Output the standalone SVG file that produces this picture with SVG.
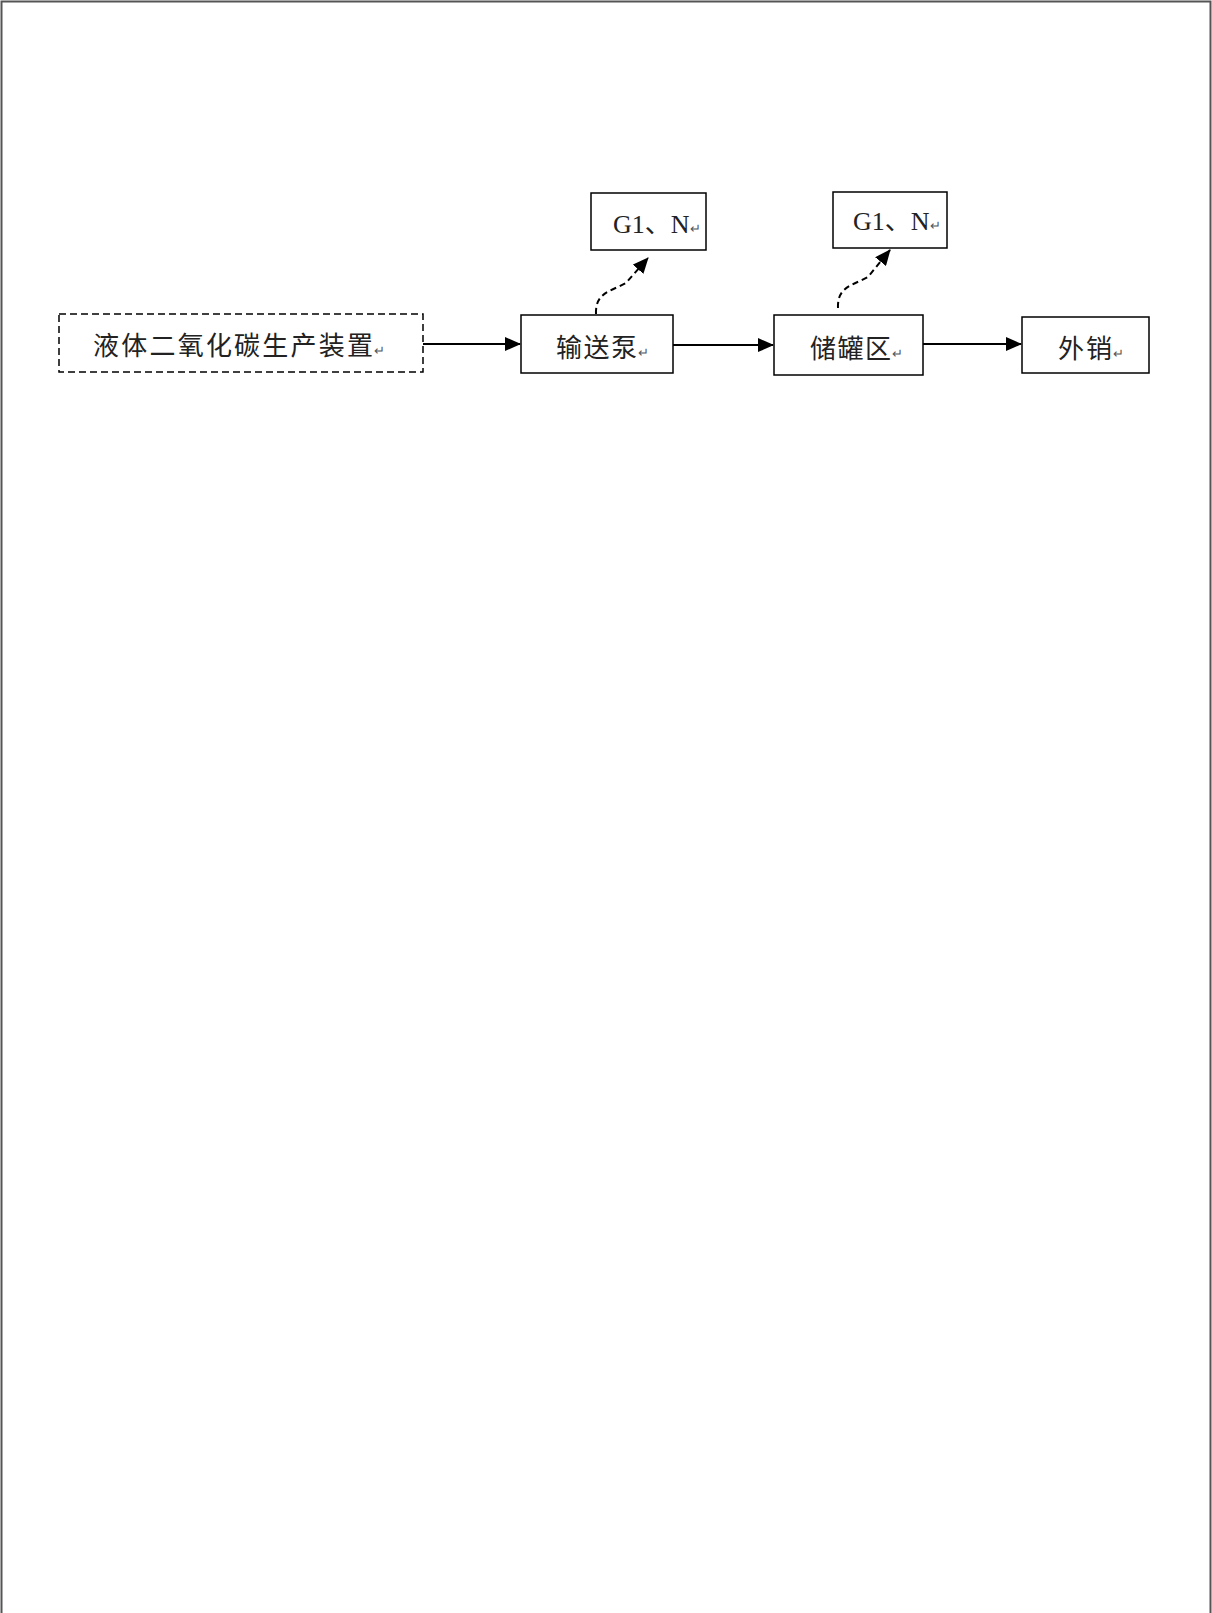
<svg xmlns="http://www.w3.org/2000/svg" width="1212" height="1613" viewBox="0 0 1212 1613">
<style>
.box{fill:#fff;stroke:#000;stroke-width:1.5}
.dbox{fill:#fff;stroke:#000;stroke-width:1.5;stroke-dasharray:7 4}
.t{font-family:"Liberation Serif","Noto Sans CJK SC",serif;font-size:26px;fill:#222}
.pm{font-size:13px;fill:#555}
.ln{fill:none;stroke:#000;stroke-width:2}
.dl{fill:none;stroke:#000;stroke-width:2;stroke-dasharray:6 4}
</style>
<defs>
<marker id="ah" markerWidth="16" markerHeight="14" refX="15" refY="7" orient="auto" markerUnits="userSpaceOnUse">
<path d="M0,0 L16,7 L0,14 Z" fill="#000"/>
</marker>
</defs>
<rect width="1212" height="1613" fill="#fff"/>
<path d="M1.5,1613 L1.5,1.5 L1210.5,1.5 L1210.5,1613" fill="none" stroke="#555" stroke-width="2"/>
<g id="connectors">
<line class="ln" x1="423" y1="344" x2="520" y2="344" marker-end="url(#ah)"/>
<line class="ln" x1="673" y1="345" x2="773" y2="345" marker-end="url(#ah)"/>
<line class="ln" x1="923" y1="344" x2="1021" y2="344" marker-end="url(#ah)"/>
<path class="dl" d="M596,314 C595,292 612,291 626,283 L648,258" marker-end="url(#ah)"/>
<path class="dl" d="M838,308 C837,286 854,285 868,277 L890,250" marker-end="url(#ah)"/>
</g>
<g id="n_source">
<rect class="dbox" x="59" y="314" width="364" height="58"/>
<text class="t" x="93" y="355" textLength="280" lengthAdjust="spacing">液体二氧化碳生产装置</text><text class="t pm" x="374" y="355">↵</text>
</g>
<g id="n_pump">
<rect class="box" x="521" y="315" width="152" height="58"/>
<text class="t" x="556" y="357" textLength="81" lengthAdjust="spacing">输送泵</text><text class="t pm" x="638" y="357">↵</text>
</g>
<g id="n_g1a">
<rect class="box" x="591" y="193" width="115" height="57"/>
<text class="t" x="613" y="233">G1、N<tspan class="pm">↵</tspan></text>
</g>
<g id="n_tank">
<rect class="box" x="774" y="315" width="149" height="60"/>
<text class="t" x="810" y="358" textLength="81" lengthAdjust="spacing">储罐区</text><text class="t pm" x="892" y="358">↵</text>
</g>
<g id="n_g1b">
<rect class="box" x="833" y="192" width="114" height="56"/>
<text class="t" x="853" y="230">G1、N<tspan class="pm">↵</tspan></text>
</g>
<g id="n_sale">
<rect class="box" x="1022" y="317" width="127" height="56"/>
<text class="t" x="1058" y="358" textLength="54" lengthAdjust="spacing">外销</text><text class="t pm" x="1113" y="358">↵</text>
</g>
</svg>
